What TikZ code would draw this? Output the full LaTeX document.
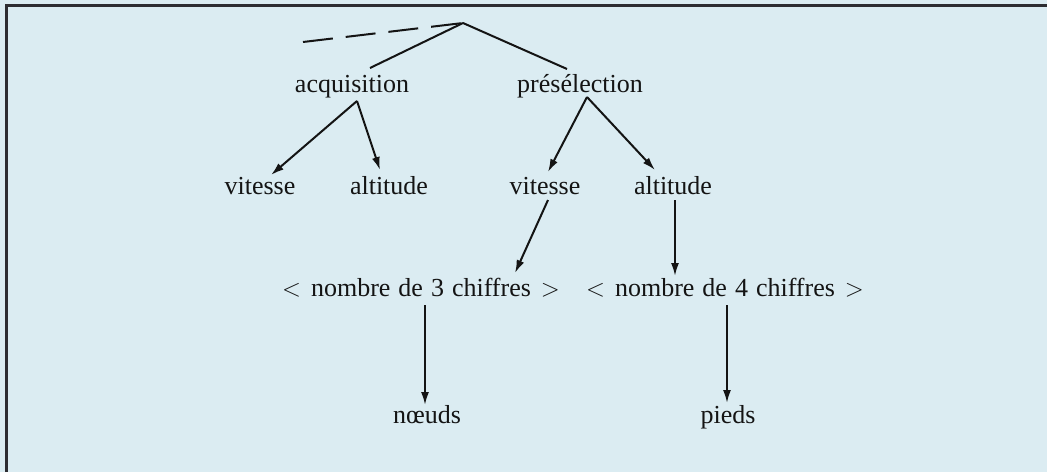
\documentclass[tikz,border=0pt]{standalone}
\usepackage{fontspec}
\setmainfont{Liberation Serif}
\usetikzlibrary{arrows.meta,calc}
\definecolor{bgblue}{RGB}{219,236,242}
\definecolor{ink}{RGB}{20,20,20}
\definecolor{framec}{RGB}{45,45,50}
\newcommand{\lt}{\ensuremath{<}}
\newcommand{\gt}{\ensuremath{>}}
\begin{document}
\begin{tikzpicture}[x=1pt,y=-1pt,
  lbl/.style={anchor=base,inner sep=0pt,text=ink,font=\fontsize{26}{31}\selectfont},
  conn/.style={draw=ink,line width=2pt},
  arr/.style={conn,-{Latex[length=13pt,width=8pt]}},
  dashconn/.style={conn,dash pattern=on 30pt off 13pt}]
\fill[bgblue] (0,0) rectangle (1047,472);
\useasboundingbox (0,0) rectangle (1047,472);
\draw[framec,line width=3pt] (6,472) -- (6,5) -- (1047,5);

\coordinate (top) at (463,23);
\coordinate (dstart) at (303,42);

\node[lbl] (acq) at (352,92) {acquisition};
\node[lbl] (pre) at (580,92) {présélection};
\node[lbl] (vitL) at (260,194) {vitesse};
\node[lbl] (altL) at (389,194) {altitude};
\node[lbl] (vitR) at (545,194) {vitesse};
\node[lbl] (altR) at (673,194) {altitude};
\node[lbl] (n3) at (421,296) {\lt\hspace{10pt}nombre\hspace{8pt}de\hspace{8pt}3\hspace{8pt}chiffres\hspace{10pt}\gt};
\node[lbl] (n4) at (725,296) {\lt\hspace{10pt}nombre\hspace{8pt}de\hspace{8pt}4\hspace{8pt}chiffres\hspace{10pt}\gt};
\node[lbl] (nd) at (427,423) {nœuds};
\node[lbl] (pd) at (728,423) {pieds};

\draw[dashconn] (dstart) -- (top);
\draw[conn] (top) -- ($(acq.base)+(18,-24)$);
\draw[conn] (top) -- ($(pre.base)+(-13,-23)$);

\draw[arr] ($(acq.base)+(5,9)$) -- ($(vitL.base)+(11,-19)$);
\draw[arr] ($(acq.base)+(5,9)$) -- ($(altL.base)+(-9,-24)$);
\draw[arr] ($(pre.base)+(7,5)$) -- ($(vitR.base)+(3,-22)$);
\draw[arr] ($(pre.base)+(7,5)$) -- ($(altR.base)+(-18,-24)$);

\draw[arr] ($(vitR.base)+(3,6)$) -- ($(n3.base)+(94,-23)$);
\draw[arr] ($(altR.base)+(2,6)$) -- ($(n4.base)+(-50,-20)$);

\draw[arr] ($(n3.base)+(4,9)$) -- ($(nd.base)+(-2,-18)$);
\draw[arr] ($(n4.base)+(2,9)$) -- ($(pd.base)+(-1,-20)$);
\end{tikzpicture}
\end{document}
